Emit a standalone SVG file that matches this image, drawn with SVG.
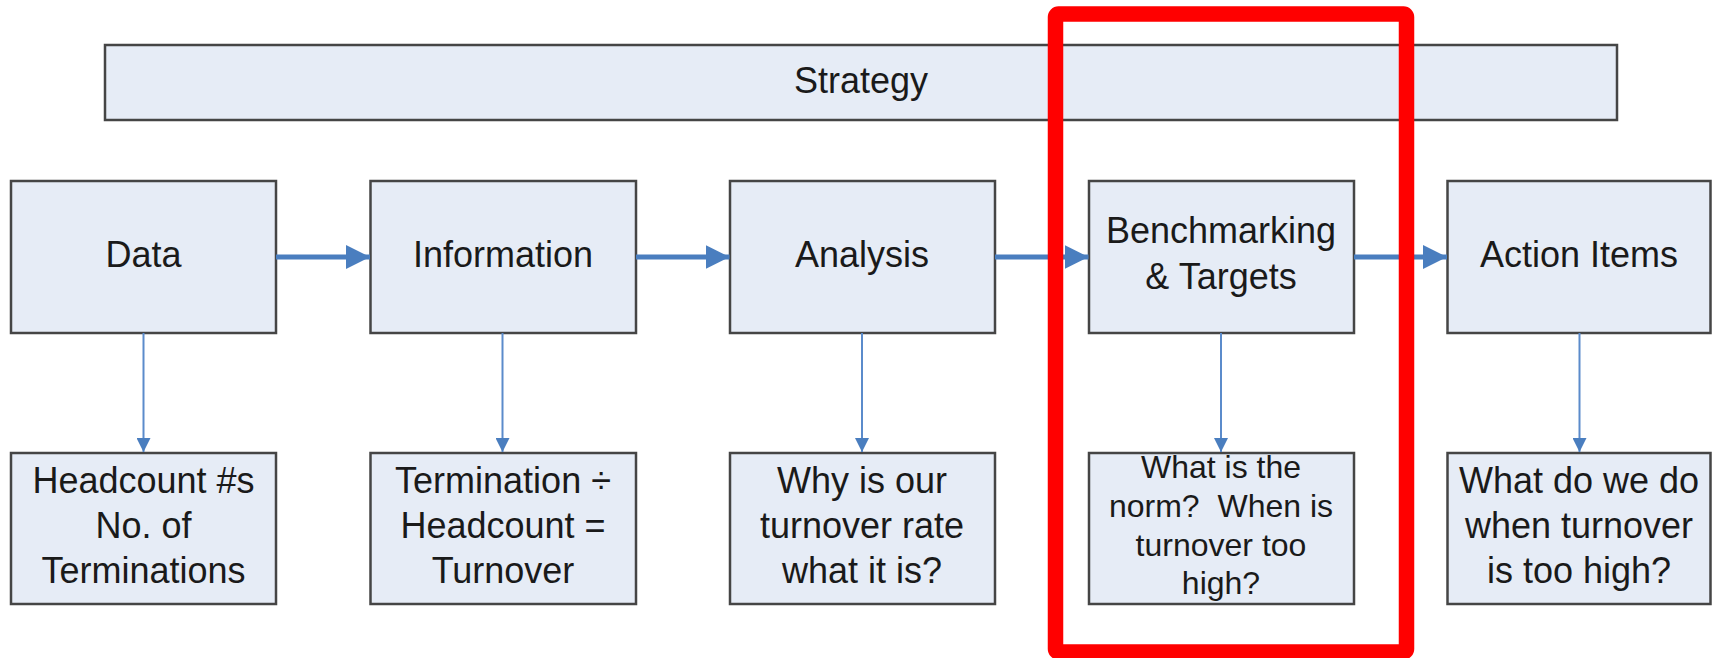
<svg xmlns="http://www.w3.org/2000/svg" width="1719" height="658" viewBox="0 0 1719 658">
<style>
.box{fill:#e6ecf6;stroke:#454545;stroke-width:2.5}
.t{font-family:"Liberation Sans",Arial,sans-serif;font-size:36px;fill:#1a1a1a;text-anchor:middle}
.s{font-family:"Liberation Sans",Arial,sans-serif;font-size:32px;fill:#1a1a1a;text-anchor:middle;white-space:pre}
.h{stroke:#4a7ebf;stroke-width:5;fill:none}
.v{stroke:#5b8bcb;stroke-width:2;fill:none}
</style>
<defs>
<marker id="ah" markerUnits="userSpaceOnUse" markerWidth="25" markerHeight="24" refX="24" refY="12" orient="auto"><path d="M0,0 L24,12 L0,24 Z" fill="#4a7ebf"/></marker>
<marker id="av" markerUnits="userSpaceOnUse" markerWidth="15" markerHeight="14" refX="14" refY="7" orient="auto"><path d="M0,0 L14,7 L0,14 Z" fill="#4a7ebf"/></marker>
</defs>
<rect width="1719" height="658" fill="#ffffff"/>
<g id="strategy"><rect class="box" x="105" y="45" width="1512" height="75"/><text class="t" x="861" y="93">Strategy</text></g>
<g id="data"><rect class="box" x="11" y="181" width="265" height="152"/><text class="t" x="143.5" y="267">Data</text></g>
<g id="information"><rect class="box" x="370.5" y="181" width="265.5" height="152"/><text class="t" x="503" y="267">Information</text></g>
<g id="analysis"><rect class="box" x="730" y="181" width="265" height="152"/><text class="t" x="862" y="267">Analysis</text></g>
<g id="benchmarking"><rect class="box" x="1089" y="181" width="265" height="152"/><text class="t" x="1221" y="243">Benchmarking</text><text class="t" x="1221" y="289">&amp; Targets</text></g>
<g id="action"><rect class="box" x="1447.5" y="181" width="263" height="152"/><text class="t" x="1579" y="267">Action Items</text></g>
<g id="headcount"><rect class="box" x="11" y="453" width="265" height="151"/><text class="t" x="143.5" y="493">Headcount #s</text><text class="t" x="143.5" y="538">No. of</text><text class="t" x="143.5" y="583">Terminations</text></g>
<g id="turnover"><rect class="box" x="370.5" y="453" width="265.5" height="151"/><text class="t" x="503" y="493">Termination ÷</text><text class="t" x="503" y="538">Headcount =</text><text class="t" x="503" y="583">Turnover</text></g>
<g id="why"><rect class="box" x="730" y="453" width="265" height="151"/><text class="t" x="862" y="493">Why is our</text><text class="t" x="862" y="538">turnover rate</text><text class="t" x="862" y="583">what it is?</text></g>
<g id="norm"><rect class="box" x="1089" y="453" width="265" height="151"/><text class="s" x="1221" y="478">What is the</text><text class="s" x="1221" y="517">norm?  When is</text><text class="s" x="1221" y="556">turnover too</text><text class="s" x="1221" y="594">high?</text></g>
<g id="whatdo"><rect class="box" x="1447.5" y="453" width="263" height="151"/><text class="t" x="1579" y="493">What do we do</text><text class="t" x="1579" y="538">when turnover</text><text class="t" x="1579" y="583">is too high?</text></g>
<g id="connectors">
<line class="h" x1="276" y1="257" x2="370" y2="257" marker-end="url(#ah)"/>
<line class="h" x1="636" y1="257" x2="729.5" y2="257" marker-end="url(#ah)"/>
<line class="h" x1="995" y1="257" x2="1088.5" y2="257" marker-end="url(#ah)"/>
<line class="h" x1="1354" y1="257" x2="1447" y2="257" marker-end="url(#ah)"/>
<line class="v" x1="143.5" y1="333" x2="143.5" y2="452" marker-end="url(#av)"/>
<line class="v" x1="502.5" y1="333" x2="502.5" y2="452" marker-end="url(#av)"/>
<line class="v" x1="862" y1="333" x2="862" y2="452" marker-end="url(#av)"/>
<line class="v" x1="1221" y1="333" x2="1221" y2="452" marker-end="url(#av)"/>
<line class="v" x1="1579.5" y1="333" x2="1579.5" y2="452" marker-end="url(#av)"/>
</g>
<g id="highlight"><rect x="1055.5" y="14" width="351" height="638" rx="3" fill="none" stroke="#ff0000" stroke-width="15.5"/></g>
</svg>
